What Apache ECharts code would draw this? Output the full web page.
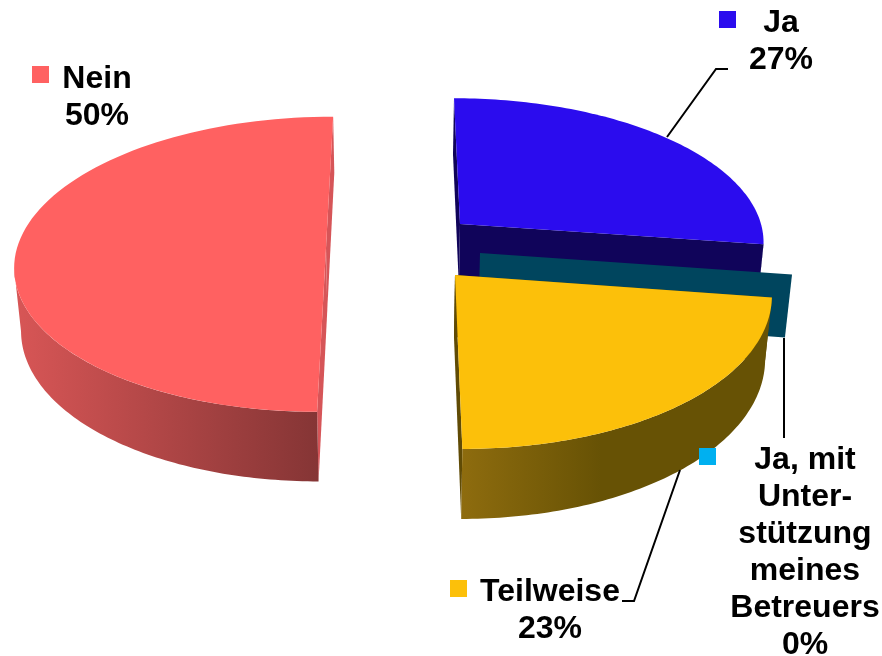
<!DOCTYPE html>
<html>
<head>
<meta charset="utf-8">
<style>
  html, body { margin: 0; padding: 0; background: #fff; }
  #chart { width: 882px; height: 656px; }
</style>
<script src="https://cdn.jsdelivr.net/npm/echarts@6/dist/echarts.min.js"></script>
</head>
<body>
<div id="chart"></div>
<script>
// values, clockwise from 12 o'clock (labels show them rounded)
var categories = ['Ja', 'Ja, mit\nUnter-\nstützung\nmeines\nBetreuers', 'Teilweise', 'Nein'];
var shares = [27.3, 0, 22.7, 50];

var topColors = ['#2b0cee', '#00b0f0', '#fcc00a', '#ff6161'];
var edgeColors = ['#10045a', '#00455e', '#604b05', '#d65558'];
var rimColors = [
  ['#10045a', '#10045a'],
  ['#00455e', '#00455e'],
  ['#8e6c0e', '#675205'],
  ['#d85656', '#853535']
];

// where each exploded slice sits on the page: apex and horizontal radius
var apexX = [460, 480, 455, 326];
var apexY = [224, 253, 275, 248];
var radiusX = [301, 309, 314, 309];
var tilts = [0.107, 0.11, 0.114, 0.11];

// perspective of the tilted pie
var vanishX = 398;
var vanishY = -1077;
var depth = 62;
var taper = 0.018;

// label placement
var swatchX = [719, 699, 450, 32];
var swatchY = [11, 448, 580, 66];
var labelX = [781, 805, 550, 97];
var labelY = [42, 553, 611, 98];
var leaders = [
  [[667, 137], [716, 69], [728, 69]],
  [[784, 338], [784, 438]],
  [[680, 470], [634, 601], [622, 601]]
];

var SWATCH = 17;
var STEPS = 90;

function project(i, angle) {
  var u = Math.sin(angle);
  var v = -Math.cos(angle);
  var s = 1 / (1 - tilts[i] * v);
  return {
    x: vanishX + (apexX[i] - vanishX + radiusX[i] * u) * s,
    y: vanishY + (apexY[i] - vanishY) * s,
    s: s
  };
}

function apexPoint(i) {
  return { x: apexX[i], y: apexY[i], s: 1 };
}

function lower(p) {
  return { x: p.x + (vanishX - p.x) * taper, y: p.y + depth * p.s };
}

function arc(i, from, to) {
  var pts = [];
  for (var k = 0; k <= STEPS; k++) {
    pts.push(project(i, from + (to - from) * k / STEPS));
  }
  return pts;
}

// the outer wall only shows between the rightmost and leftmost rim points
function frontRange(i) {
  var left = 0, right = 0, minX = Infinity, maxX = -Infinity;
  for (var k = 0; k < 720; k++) {
    var a = k / 720 * Math.PI * 2;
    var p = project(i, a);
    if (p.x < minX) { minX = p.x; left = a; }
    if (p.x > maxX) { maxX = p.x; right = a; }
  }
  return [right, left];
}

function toPixels(api, pts) {
  return pts.map(function (p) {
    return api.coord([p.x, p.y]);
  });
}

function edgeWall(api, i, angle) {
  var a = apexPoint(i);
  var p = project(i, angle);
  return {
    type: 'polygon',
    shape: { points: toPixels(api, [a, p, lower(p), lower(a)]) },
    style: { fill: edgeColors[i] }
  };
}

function renderSlice(params, api) {
  var i = params.dataIndex;
  var total = shares.reduce(function (a, b) { return a + b; }, 0);
  var before = 0;
  for (var k = 0; k < i; k++) before += shares[k];
  var start = before / total * Math.PI * 2;
  var end = (before + api.value(1)) / total * Math.PI * 2;
  var children = [];

  children.push(edgeWall(api, i, start));
  if (end === start) {
    return { type: 'group', children: children };
  }
  children.push(edgeWall(api, i, end));

  var front = frontRange(i);
  var wallFrom = Math.max(start, front[0]);
  var wallTo = Math.min(end, front[1]);
  if (wallTo > wallFrom) {
    var rim = arc(i, wallFrom, wallTo);
    children.push({
      type: 'polygon',
      shape: { points: toPixels(api, rim.concat(rim.map(lower).reverse())) },
      style: {
        fill: new echarts.graphic.LinearGradient(0, 0, 1, 0, [
          { offset: 0, color: rimColors[i][0] },
          { offset: i === 2 ? 0.45 : 1, color: rimColors[i][1] },
          { offset: 1, color: rimColors[i][1] }
        ])
      }
    });
  }
  children.push({
    type: 'polygon',
    shape: { points: toPixels(api, [apexPoint(i)].concat(arc(i, start, end))) },
    style: { fill: topColors[i] }
  });
  return { type: 'group', children: children };
}

function renderLabel(params, api) {
  var i = params.dataIndex;
  var s = api.coord([swatchX[i], swatchY[i]]);
  var t = api.coord([labelX[i], labelY[i]]);
  return {
    type: 'group',
    children: [
      {
        type: 'rect',
        shape: { x: s[0], y: s[1], width: SWATCH, height: SWATCH },
        style: { fill: topColors[i] }
      },
      {
        type: 'text',
        style: {
          x: t[0],
          y: t[1],
          text: categories[i] + '\n' + Math.round(api.value(1)) + '%',
          fill: '#000',
          align: 'center',
          verticalAlign: 'middle',
          fontFamily: 'Liberation Sans',
          fontWeight: 'bold',
          fontSize: 32,
          lineHeight: 37
        }
      }
    ]
  };
}

function renderLeader(params, api) {
  return {
    type: 'polyline',
    shape: {
      points: leaders[params.dataIndex].map(function (p) { return api.coord(p); })
    },
    style: { stroke: '#000', lineWidth: 2, fill: null }
  };
}

var sliceData = shares.map(function (v, i) { return [i, v]; });

var chart = echarts.init(document.getElementById('chart'));
chart.setOption({
  animation: false,
  backgroundColor: '#fff',
  grid: { left: 0, right: 0, top: 0, bottom: 0 },
  xAxis: { type: 'value', min: 0, max: 882, show: false },
  yAxis: { type: 'value', min: 0, max: 656, inverse: true, show: false },
  series: [
    { type: 'custom', coordinateSystem: 'cartesian2d', clip: false, z: 2, renderItem: renderSlice, data: sliceData },
    { type: 'custom', coordinateSystem: 'cartesian2d', clip: false, z: 3, renderItem: renderLeader, data: leaders.map(function (l, i) { return [i, 0]; }) },
    { type: 'custom', coordinateSystem: 'cartesian2d', clip: false, z: 4, renderItem: renderLabel, data: sliceData }
  ]
});
</script>
</body>
</html>
